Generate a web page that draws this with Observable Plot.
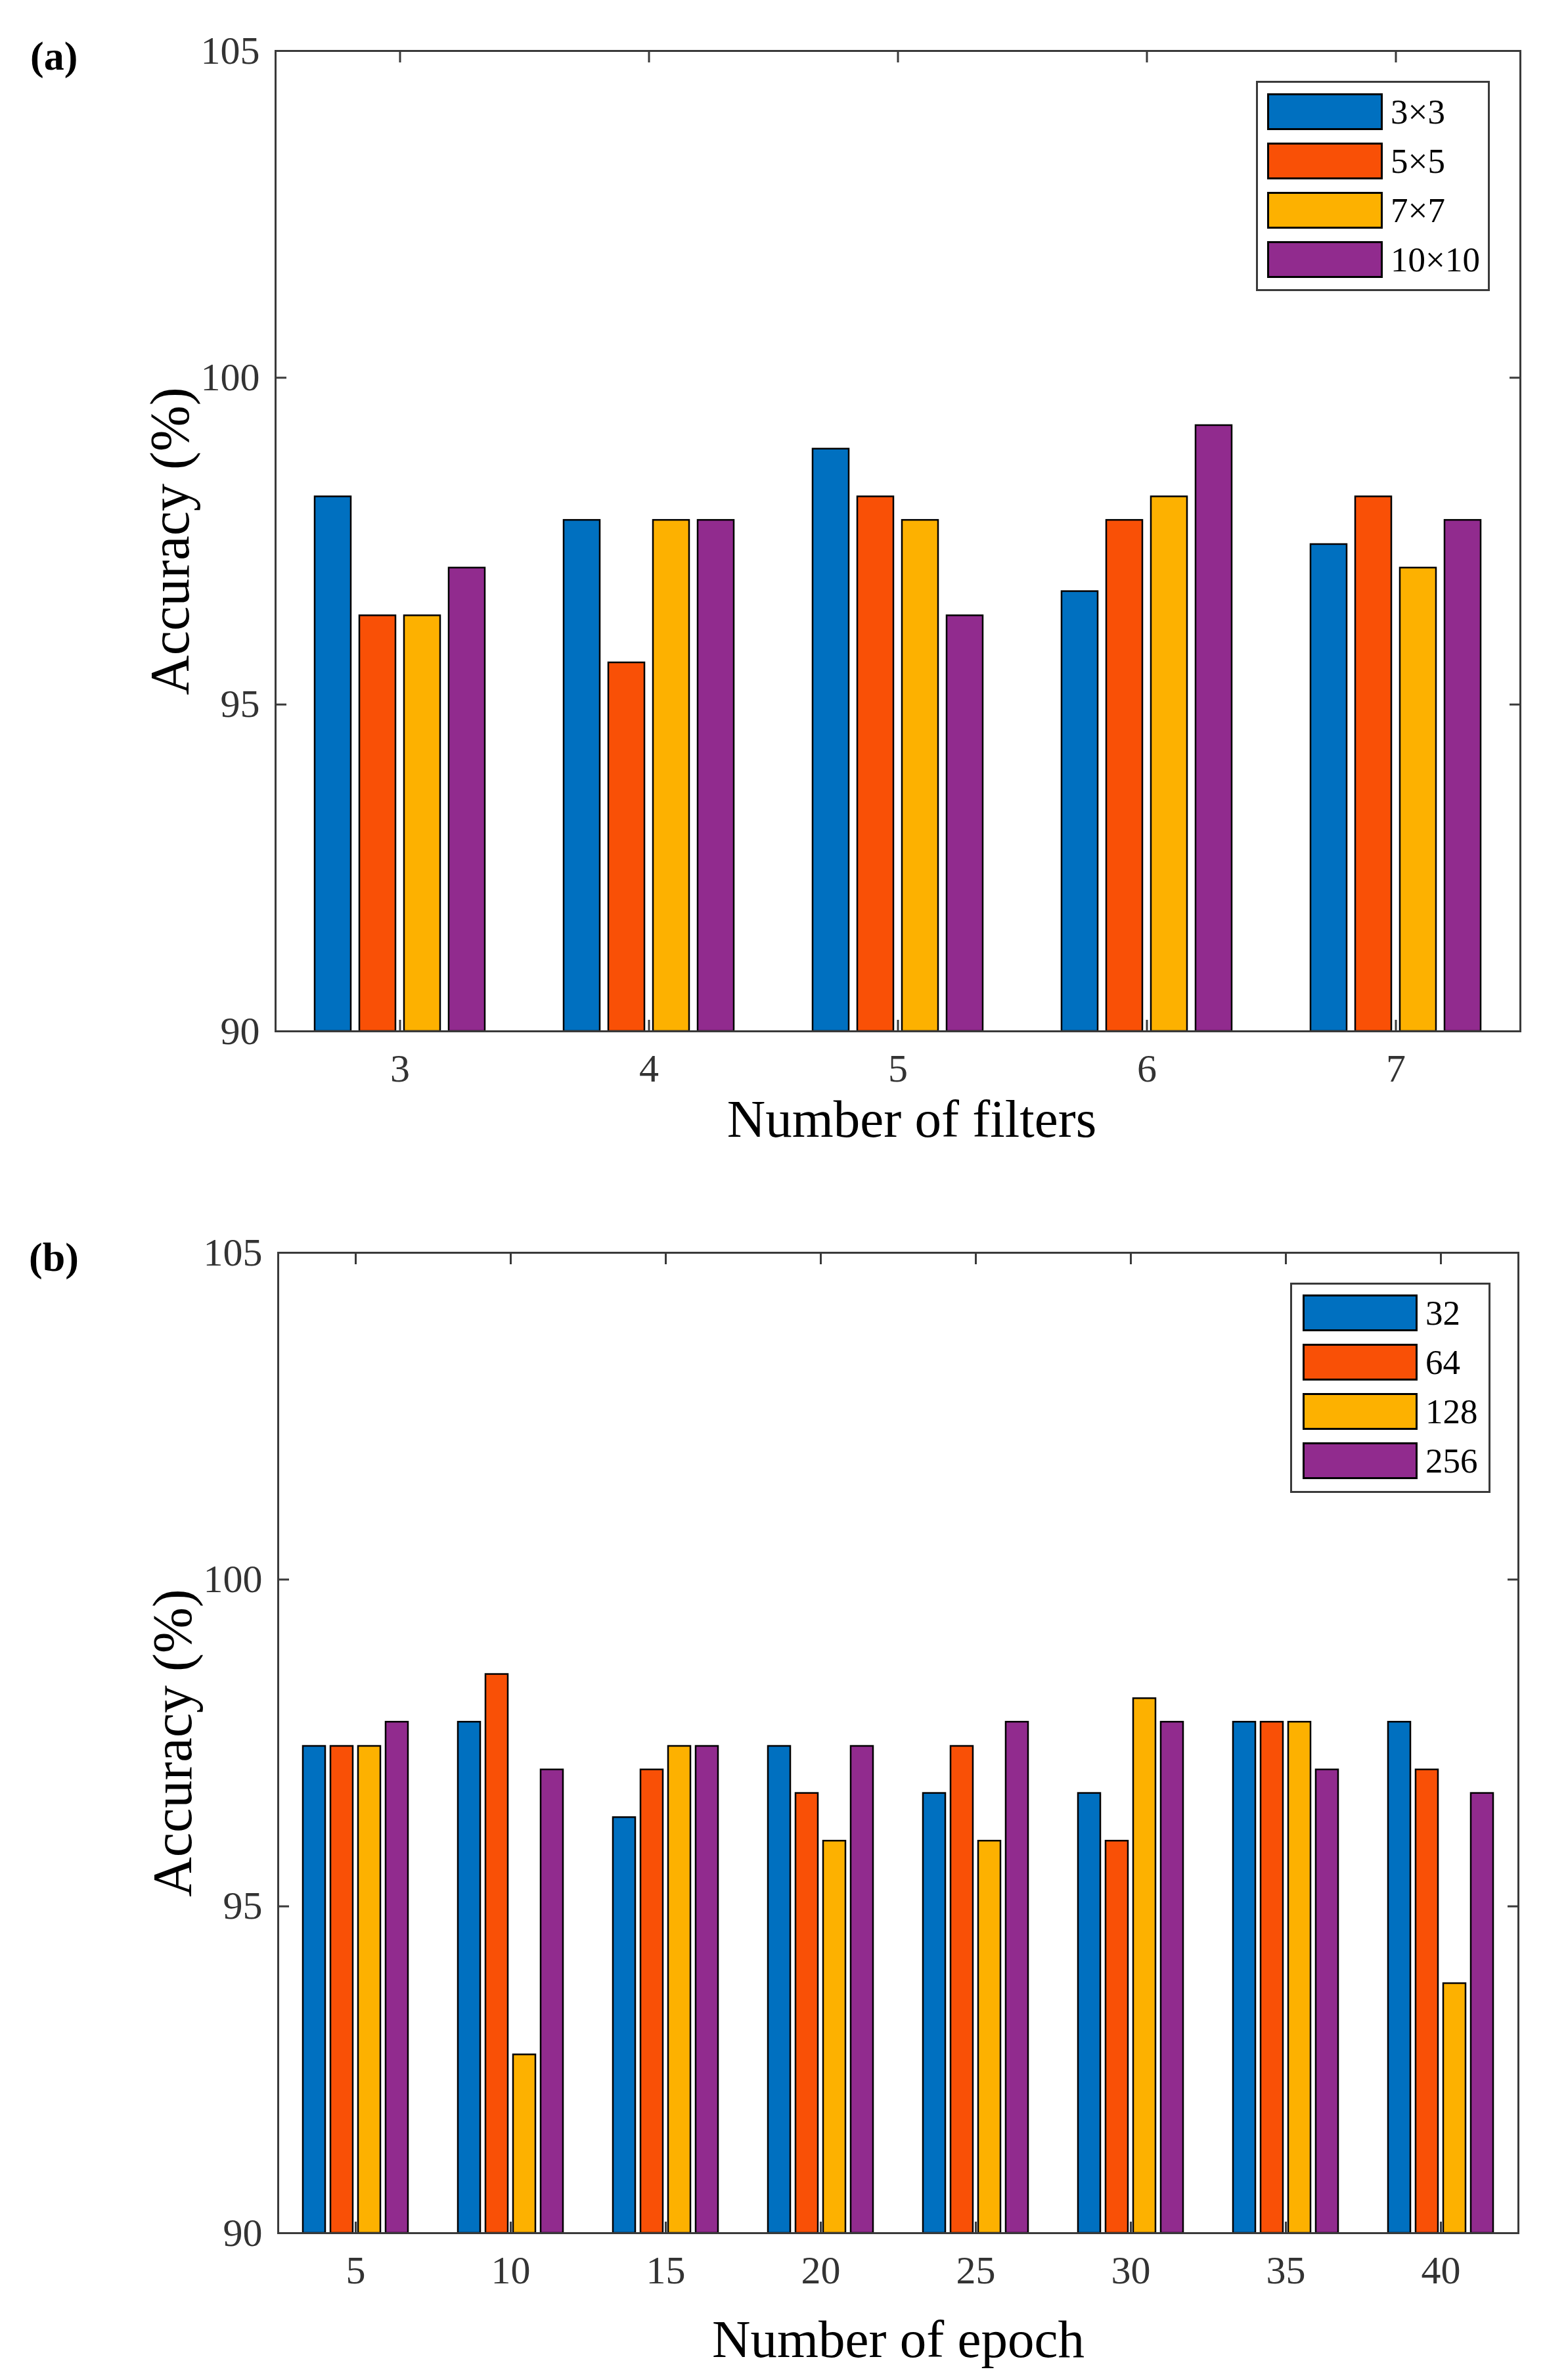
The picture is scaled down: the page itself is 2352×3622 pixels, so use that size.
<!DOCTYPE html>
<html><head><meta charset="utf-8">
<script src="https://cdn.jsdelivr.net/npm/d3@7"></script>
<script src="https://cdn.jsdelivr.net/npm/@observablehq/plot@0.6"></script>
<style>
body{margin:0;background:#fff;width:2352px;height:3622px;position:relative;overflow:hidden;font-family:"Liberation Serif","DejaVu Serif",serif;}
.panel{position:absolute;left:0;width:2352px;height:1811px;}
.tag{position:absolute;font-weight:bold;font-size:62px;line-height:1;color:#000;}
.legend{position:absolute;border:3px solid #3a3a3a;background:#fff;box-sizing:border-box;}
.item{position:absolute;left:0;display:flex;align-items:center;}
.sw{border:3px solid #000;box-sizing:border-box;}
.lt{font-size:53px;color:#000;margin-left:12px;line-height:1;}
g[aria-label="fx-axis label"]{font-size:81px;fill:#000;}
#a g[aria-label="fx-axis label"]{translate:21px 0;}
g[aria-label="y-axis label"]{font-size:84px;fill:#000;}
</style></head><body>
<div id="a" class="panel" style="top:0"></div>
<div id="b" class="panel" style="top:1811px"></div>
<div class="tag" style="left:46px;top:54px">(a)</div>
<div class="tag" style="left:44px;top:1882px">(b)</div>
<script>
// ---- Panel (a) data ----
const filters = [3, 4, 5, 6, 7];
const kernelSizes = ["3×3", "5×5", "7×7", "10×10"];
const acc3x3   = [98.18, 97.82, 98.91, 96.73, 97.45];
const acc5x5   = [96.36, 95.64, 98.18, 97.82, 98.18];
const acc7x7   = [96.36, 97.82, 97.82, 98.18, 97.09];
const acc10x10 = [97.09, 97.82, 96.36, 99.27, 97.82];

// ---- Panel (b) data ----
const epochs = [5, 10, 15, 20, 25, 30, 35, 40];
const batchSizes = ["32", "64", "128", "256"];
const acc32  = [97.45, 97.82, 96.36, 97.45, 96.73, 96.73, 97.82, 97.82];
const acc64  = [97.45, 98.55, 97.09, 96.73, 97.45, 96.00, 97.82, 97.09];
const acc128 = [97.45, 92.73, 97.45, 96.00, 96.00, 98.18, 97.82, 93.82];
const acc256 = [97.82, 97.09, 97.45, 97.45, 97.82, 97.82, 97.09, 96.73];

const yTicks = [90, 95, 100, 105];
const palette = ["#0070C0", "#F95006", "#FDB100", "#912B8E"];

function tidy(groups, series, values) {
  const rows = [];
  groups.forEach((g, i) => series.forEach((s, j) => rows.push({group: g, series: s, value: values[j][i]})));
  return rows;
}

function chart({groups, series, values, xLabel, marginTop, marginBottom, xLabelOffset}) {
  const data = tidy(groups, series, values);
  const axisColor = "#3a3a3a";
  const tk = 17;
  return Plot.plot({
    width: 2352, height: 1811,
    marginLeft: 419, marginRight: 38, marginTop, marginBottom,
    style: {fontFamily: '"Liberation Serif","DejaVu Serif",serif', fontSize: "60px", color: "#333", background: "white", overflow: "visible"},
    fx: {domain: groups, paddingInner: 0, paddingOuter: 0, label: xLabel},
    x: {domain: series, paddingInner: 0.19, paddingOuter: 0.85, axis: null},
    y: {domain: [90, 105], label: "Accuracy (%)"},
    color: {domain: series, range: palette},
    marks: [
      Plot.barY(data, {fx: "group", x: "series", y1: 90, y2: "value", fill: "series", stroke: "#000", strokeWidth: 2.5}),
      Plot.ruleY([90, 105], {stroke: axisColor, strokeWidth: 3}),
      Plot.frame({anchor: "left", facetAnchor: "left", stroke: axisColor, strokeWidth: 3}),
      Plot.frame({anchor: "right", facetAnchor: "right", stroke: axisColor, strokeWidth: 3}),
      Plot.axisY(yTicks, {anchor: "left", tickSize: 0, tickPadding: 24, tickFormat: d => String(d), label: "Accuracy (%)", labelAnchor: "center", labelArrow: "none", labelOffset: 192}),
      Plot.axisY(yTicks, {anchor: "left", tickSize: tk, dx: tk, tickFormat: () => "", label: null, stroke: axisColor, strokeWidth: 3}),
      Plot.axisY(yTicks, {anchor: "right", tickSize: tk, dx: -tk, tickFormat: () => "", label: null, stroke: axisColor, strokeWidth: 3}),
      Plot.axisFx({anchor: "bottom", tickSize: 0, tickPadding: 34, label: null}),
      Plot.axisFx({anchor: "bottom", tickSize: 0, tickFormat: () => "", label: xLabel, labelAnchor: "center", labelArrow: "none", labelOffset: xLabelOffset}),
      Plot.axisFx({anchor: "bottom", tickSize: tk, dy: -tk, tickFormat: () => "", label: null, stroke: axisColor, strokeWidth: 3}),
      Plot.axisFx({anchor: "top", tickSize: tk, dy: tk, tickFormat: () => "", label: null, stroke: axisColor, strokeWidth: 3})
    ]
  });
}

function legend(host, series, box, sw) {
  const lg = document.createElement("div");
  lg.className = "legend";
  Object.assign(lg.style, {left: box.x + "px", top: box.y + "px", width: box.w + "px", height: box.h + "px"});
  series.forEach((s, i) => {
    const it = document.createElement("div");
    it.className = "item";
    it.style.left = (sw.x - box.x - 3) + "px";
    it.style.top = (sw.y + i * sw.step - box.y - 3) + "px";
    const r = document.createElement("div");
    r.className = "sw";
    Object.assign(r.style, {width: sw.w + "px", height: sw.h + "px", background: palette[i]});
    const t = document.createElement("span");
    t.className = "lt";
    t.textContent = s;
    it.append(r, t);
    lg.append(it);
  });
  host.append(lg);
}

const A = document.getElementById("a");
A.append(chart({groups: filters, series: kernelSizes, values: [acc3x3, acc5x5, acc7x7, acc10x10],
  xLabel: "Number of filters", marginTop: 77, marginBottom: 242, xLabelOffset: 160}));
legend(A, kernelSizes, {x: 1912, y: 123, w: 356, h: 320}, {x: 1929, y: 142, w: 176, h: 56, step: 75});

const B = document.getElementById("b");
B.append(chart({groups: epochs, series: batchSizes, values: [acc32, acc64, acc128, acc256],
  xLabel: "Number of epoch", marginTop: 95, marginBottom: 224, xLabelOffset: 188}));
legend(B, batchSizes, {x: 1964, y: 141, w: 305, h: 320}, {x: 1983, y: 159, w: 175, h: 56, step: 75});
</script>
</body></html>
